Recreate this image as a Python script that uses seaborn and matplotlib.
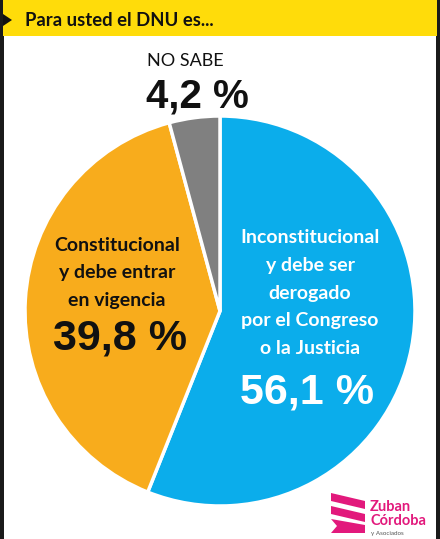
import numpy as np
import matplotlib
matplotlib.use("Agg")
import matplotlib.pyplot as plt
import seaborn as sns
from matplotlib.patches import Polygon, Rectangle

# Survey data: "Para usted el DNU es..."
answers = ["Inconstitucional\ny debe ser\nderogado\npor el Congreso\no la Justicia",
           "Constitucional\ny debe entrar\nen vigencia",
           "NO SABE"]
shares = [56.1, 39.8, 4.2]
share_labels = ["56,1 %", "39,8 %", "4,2 %"]
slice_colors = ["#0BADEB", "#F8AC1C", "#808080"]
text_colors = ["white", "#111111", "#111111"]

W, H = 440, 539
PINK = "#E2197C"
BIG = ['Liberation Sans', 'DejaVu Sans']

sns.set_theme(style="white")
plt.rcParams['font.family'] = ['Lato', 'DejaVu Sans']


def fx(px):
    return px / W


def fy(py):
    return 1 - py / H


fig = plt.figure(figsize=(W / 100, H / 100), dpi=100)
fig.patch.set_facecolor("white")

# header band
fig.add_artist(Rectangle((0, fy(36)), 1, 36 / H, transform=fig.transFigure,
                         facecolor="#FFDC0A", edgecolor="none", zorder=0))
fig.add_artist(Polygon([(fx(0), fy(12)), (fx(12), fy(20)), (fx(0), fy(28))],
                       closed=True, transform=fig.transFigure,
                       facecolor="#111111", edgecolor="none", zorder=2))
fig.text(fx(25), fy(21), "Para usted el DNU es...", fontsize=13.3, fontweight="bold",
         color="#111111", va="center", ha="left")

# side borders
for x0 in (0, W - 4):
    fig.add_artist(Rectangle((fx(x0), 0), 4 / W, fy(36), transform=fig.transFigure,
                             facecolor="#1a1a1a", edgecolor="none", zorder=3))
fig.add_artist(Rectangle((0, fy(36)), 3 / W, 36 / H, transform=fig.transFigure,
                         facecolor="#1a1a1a", edgecolor="none", zorder=3))
fig.add_artist(Rectangle((fx(W - 3), fy(36)), 3 / W, 36 / H, transform=fig.transFigure,
                         facecolor="#1a1a1a", edgecolor="none", zorder=3))

# pie
cx, cy, R = 220, 311, 195
ax = fig.add_axes([fx(cx - R), fy(cy + R), 2 * R / W, 2 * R / H])
ax.pie(shares, colors=slice_colors, startangle=90, counterclock=False,
       wedgeprops=dict(edgecolor="white", linewidth=2.5))
ax.set_xlim(-1, 1)
ax.set_ylim(-1, 1)
ax.axis("off")

# labels
fig.text(fx(310), fy(293), answers[0], fontsize=14, fontweight="bold", color=text_colors[0],
         ha="center", va="center", linespacing=1.76)
fig.text(fx(307), fy(392), share_labels[0], fontsize=31, fontweight="bold",
         color=text_colors[0], ha="center", va="center", family=BIG)

fig.text(fx(117), fy(273), answers[1], fontsize=14, fontweight="bold", color=text_colors[1],
         ha="center", va="center", linespacing=1.76)
fig.text(fx(120), fy(338), share_labels[1], fontsize=31, fontweight="bold",
         color=text_colors[1], ha="center", va="center", family=BIG)

fig.text(fx(147), fy(61), answers[2], fontsize=13, color=text_colors[2],
         ha="left", va="center")
fig.text(fx(146), fy(97), share_labels[2], fontsize=29, fontweight="bold",
         color=text_colors[2], ha="left", va="center", family=BIG)

# logo
for i in range(3):
    y0 = 493 + 13 * i
    pts = [(331, y0), (365, y0 + 8), (365, y0 + 16), (331, y0 + 8)]
    if i == 2:
        pts = [(331, y0), (365, y0 + 6), (365, y0 + 14), (331, y0 + 14), (337, y0 + 7)]
    fig.add_artist(Polygon([(fx(px), fy(py)) for px, py in pts], closed=True,
                           transform=fig.transFigure, facecolor=PINK, edgecolor="none"))
fig.text(fx(370), fy(507), "Zuban", fontsize=10.5, fontweight="bold", color=PINK,
         ha="left", va="center")
fig.text(fx(370), fy(521), "Córdoba", fontsize=10.5, fontweight="bold", color=PINK,
         ha="left", va="center")
fig.text(fx(371), fy(533), "y Asociados", fontsize=4.5, color="#555555",
         ha="left", va="center")

fig.savefig("out.png", dpi=100)
